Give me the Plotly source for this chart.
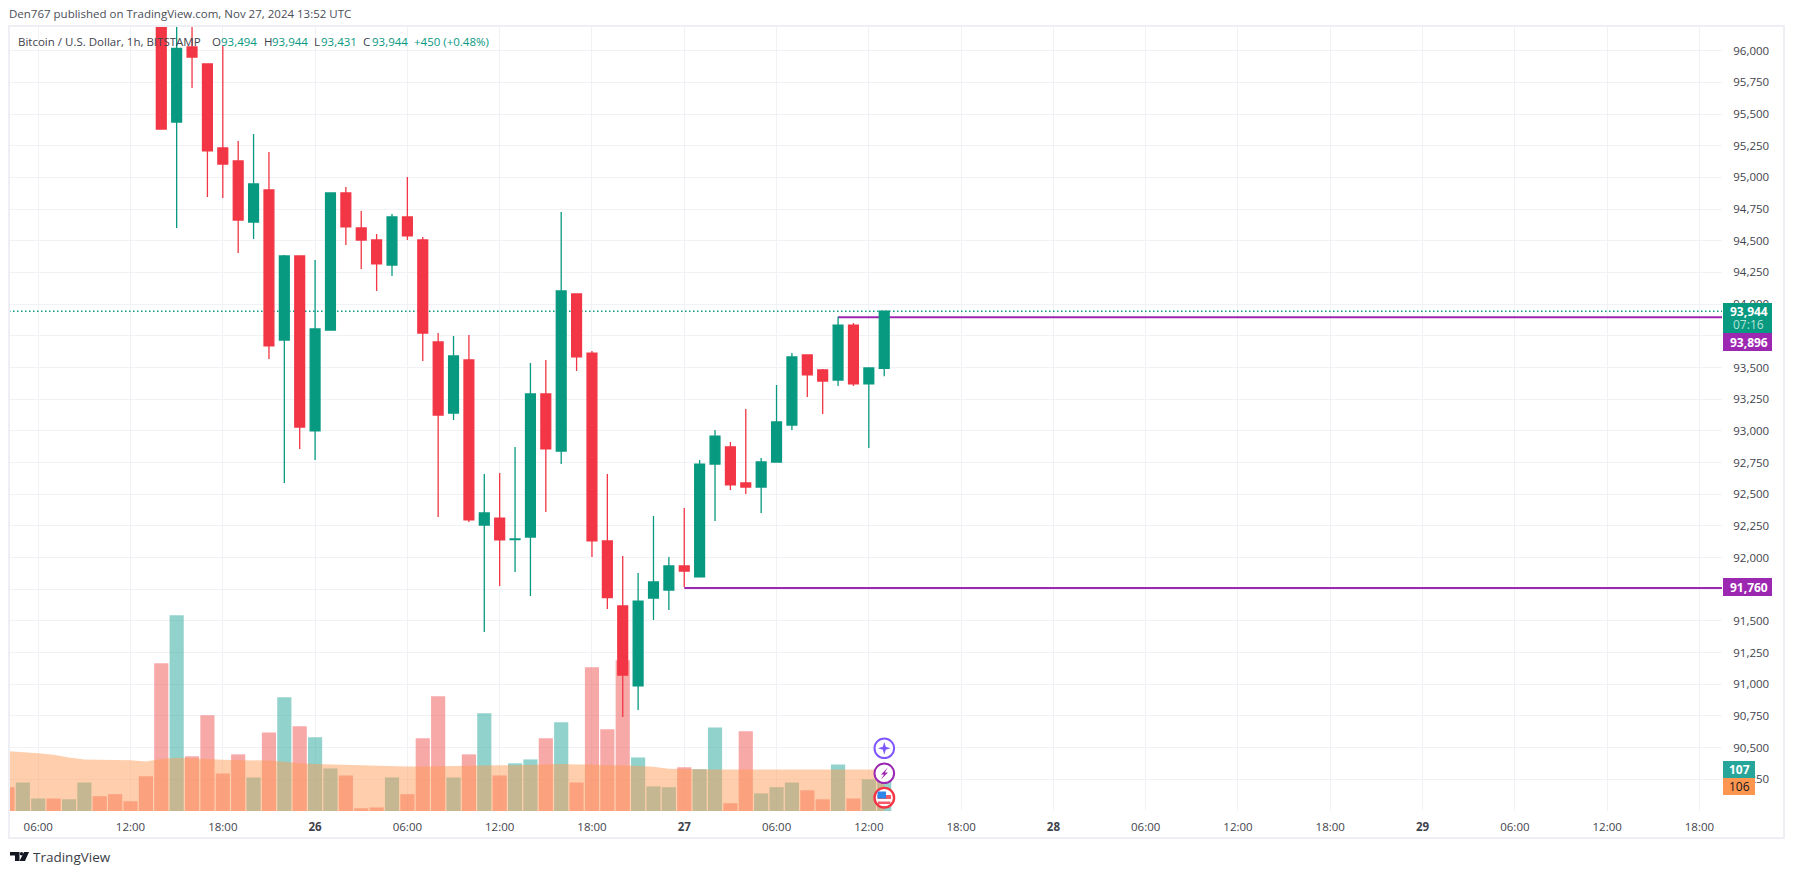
import pandas as pd
import plotly.graph_objects as go

# ---------- data ----------
candle_start = "2024-11-25 14:00"
candle_open = [96450, 95437, 96029, 95895, 95232, 95130, 94648, 94901, 93717, 94380,
               92999, 93796, 94877, 94601, 94506, 94309, 94688, 94506, 93701, 93141, 93559, 92257, 92312, 92141,
               92162, 93291, 92841, 94080, 93614, 92131, 91618, 90987, 91681, 91744,
               91934, 91847, 92738, 92873, 92589, 92557, 92754, 93046, 93599, 93480, 93401, 93835, 93370, 93494]
candle_high = [96450, 96400, 96400, 95895, 96045, 95287, 95343, 95201, 94388, 94380,
               94348, 94877, 94924, 94735, 94554, 94711, 95003, 94530, 93772, 93749, 93756, 92660, 92667, 92873,
               93536, 93559, 94727, 94080, 93630, 92660, 92012, 91878, 92328, 92005,
               92391, 92770, 93007, 92912, 93173, 92786, 93362, 93614, 93599, 93488, 93901, 93851, 93496, 93944]
candle_low = [95382, 94601, 95706, 94846, 94838, 94404, 94514, 93567, 92589, 92857,
              92770, 93796, 94467, 94277, 94104, 94222, 94506, 93551, 92320, 93086, 92281, 91413, 91776, 91886,
              91697, 92360, 92738, 93472, 92005, 91594, 90742, 90797, 91507, 91586,
              91768, 91847, 92289, 92533, 92502, 92352, 92754, 93007, 93267, 93133, 93354, 93354, 92865, 93431]
candle_close = [95382, 96019, 95950, 95209, 95106, 94664, 94948, 93670, 94380, 93030,
                93804, 94877, 94609, 94506, 94317, 94688, 94538, 93772, 93125, 93591, 92297, 92352, 92139, 92147,
                93291, 92857, 94104, 93583, 92131, 91684, 91073, 91657, 91807, 91934,
                91894, 92738, 92959, 92573, 92557, 92754, 93070, 93583, 93441, 93393, 93835, 93370, 93496, 93944]

volume_start = "2024-11-25 04:00"
volume = [61, 73, 32, 32, 30, 73, 38, 43, 25, 89, 378, 501, 140, 245, 96, 145, 86, 201, 291, 217,
          189, 109, 91, 7, 9, 86, 43, 186, 294, 86, 145, 250, 91, 122, 132, 186, 227, 73, 368, 209,
          386, 137, 63, 61, 112, 107, 214, 20, 204, 45, 61, 73, 53, 30, 119, 32, 81, 107]
volume_side = list("rggrggrrrrrgrrrrgrgrggrrrgrrrgrgrggrgrrrrgggrggrrgggrrgrgg")
volume_ma = [153, 151, 148, 144, 137, 132, 131, 131, 130, 127, 133, 136, 135, 133, 131, 130, 129, 129, 126, 122,
             120, 119, 118, 117, 115, 114, 114, 114, 114, 115, 116, 117, 117, 117, 118, 119, 120, 119, 119, 117,
             117, 115, 113, 108, 107, 106, 106, 106, 106, 106, 106, 106, 106, 106, 106, 106, 106, 106]

last_price = 93944
level_high = 93896
level_high_from = "2024-11-27 10:00"
level_low = 91760
level_low_from = "2024-11-27 00:00"
x_range = ["2024-11-25 04:06", "2024-11-29 19:28"]

price_ticks = list(range(90250, 96001, 250))
time_ticks = ["2024-11-25 06:00", "2024-11-25 12:00", "2024-11-25 18:00", "2024-11-26 00:00",
              "2024-11-26 06:00", "2024-11-26 12:00", "2024-11-26 18:00", "2024-11-27 00:00",
              "2024-11-27 06:00", "2024-11-27 12:00", "2024-11-27 18:00", "2024-11-28 00:00",
              "2024-11-28 06:00", "2024-11-28 12:00", "2024-11-28 18:00", "2024-11-29 00:00",
              "2024-11-29 06:00", "2024-11-29 12:00", "2024-11-29 18:00"]
time_labels = ["06:00", "12:00", "18:00", "<b>26</b>", "06:00", "12:00", "18:00", "<b>27</b>",
               "06:00", "12:00", "18:00", "<b>28</b>", "06:00", "12:00", "18:00", "<b>29</b>",
               "06:00", "12:00", "18:00"]

# ---------- style ----------
W, H = 1794, 874
L, R, T, B = 9, 1722, 27, 811
GREEN, RED, PURPLE = "#089981", "#F23645", "#9C27B0"
GRID = "#F1F2F6"
FONT = "Open Sans"
TXT = "#3F434D"


def px(v):
    return (v - L) / (R - L)


def py(v):
    return (B - v) / (B - T)


candle_x = pd.date_range(candle_start, periods=len(candle_open), freq="h")
volume_x = pd.date_range(volume_start, periods=len(volume), freq="h")

fig = go.Figure()

fig.add_trace(go.Bar(
    x=volume_x, y=volume, yaxis="y", width=3600000 * 0.92,
    marker=dict(color=["rgba(38,166,154,0.5)" if s == "g" else "rgba(239,83,80,0.5)" for s in volume_side],
                line_width=0),
    hoverinfo="skip"))
fig.add_trace(go.Scatter(
    x=volume_x, y=volume_ma, yaxis="y", mode="lines", line=dict(width=0),
    fill="tozeroy", fillcolor="rgba(255,152,80,0.47)", hoverinfo="skip"))

fig.add_trace(go.Scatter(
    x=[x_range[0], x_range[1]], y=[last_price, last_price], yaxis="y2", mode="lines",
    line=dict(color=GREEN, width=1.3, dash="1.5px 2.5px"), hoverinfo="skip"))
fig.add_trace(go.Scatter(
    x=[level_high_from, x_range[1]], y=[level_high, level_high], yaxis="y2", mode="lines",
    line=dict(color=PURPLE, width=2), hoverinfo="skip"))
fig.add_trace(go.Scatter(
    x=[level_low_from, x_range[1]], y=[level_low, level_low], yaxis="y2", mode="lines",
    line=dict(color=PURPLE, width=2), hoverinfo="skip"))

fig.add_trace(go.Candlestick(
    x=candle_x, open=candle_open, high=candle_high, low=candle_low, close=candle_close, yaxis="y3",
    increasing=dict(line=dict(color=GREEN, width=1.3), fillcolor=GREEN),
    decreasing=dict(line=dict(color=RED, width=1.3), fillcolor=RED),
    whiskerwidth=0, hoverinfo="skip"))

shapes = []
annots = []


def text(x, y, s, color=TXT, size=11.5, anchor="left", bold=False):
    annots.append(dict(xref="paper", yref="paper", x=px(x), y=py(y), text=f"<b>{s}</b>" if bold else s,
                       showarrow=False, xanchor=anchor, yanchor="middle", align=anchor,
                       font=dict(family=FONT, size=size, color=color), borderpad=0, borderwidth=0))


def rect(x0, y0, x1, y1, fill, line=None, lw=0):
    shapes.append(dict(type="rect", xref="paper", yref="paper", x0=px(x0), x1=px(x1), y0=py(y0), y1=py(y1),
                       fillcolor=fill, line=dict(color=line or fill, width=lw), layer="above"))


def poly(points, fill):
    d = "M" + " L".join(f"{px(a):.6f},{py(b):.6f}" for a, b in points) + " Z"
    shapes.append(dict(type="path", xref="paper", yref="paper", path=d, fillcolor=fill,
                       line=dict(width=0), layer="above"))


def circle(cx, cy, r, line, lw=2, fill="#FFFFFF"):
    shapes.append(dict(type="circle", xref="paper", yref="paper", x0=px(cx - r), x1=px(cx + r),
                       y0=py(cy + r), y1=py(cy - r), fillcolor=fill, line=dict(color=line, width=lw),
                       layer="above"))


# outer frame
rect(9, 26, 1784, 838, "rgba(0,0,0,0)", "#EEEFF5", 2)

# header and footer
text(9, 14, "Den767 published on TradingView.com, Nov 27, 2024 13:52 UTC", "#4A4E57")
text(18, 41, "Bitcoin / U.S. Dollar, 1h, BITSTAMP", TXT)
for xp, s, c in [(212, "O", TXT), (221, "93,494", GREEN), (264, "H", TXT), (272, "93,944", GREEN),
                 (314, "L", TXT), (321, "93,431", GREEN), (363, "C", TXT), (372, "93,944", GREEN),
                 (414, "+450 (+0.48%)", GREEN)]:
    text(xp, 41, s, c)
text(33, 857, "TradingView", "#3A3D45", 13.5)
poly([(10, 852), (19.5, 852), (19.5, 861), (15, 861), (15, 855.5), (10, 855.5)], "#131722")
circle(21.5, 853.7, 1.7, "#131722", 0, "#131722")
poly([(24, 852), (29, 852), (25, 861), (19.5, 861)], "#131722")

# price labels
rect(1723, 303, 1772, 333, GREEN)
text(1749, 312, "93,944", "#FFFFFF", 12, "center", True)
text(1749, 325, "07:16", "#B7E3DA", 12, "center")
rect(1723, 333, 1772, 351, PURPLE)
text(1749, 342, "93,896", "#FFFFFF", 12, "center", True)
rect(1723, 578, 1772, 596, PURPLE)
text(1749, 587, "91,760", "#FFFFFF", 12, "center", True)
rect(1723, 761, 1755, 778, "#26A69A")
text(1739, 769.5, "107", "#FFFFFF", 12, "center", True)
rect(1723, 778, 1755, 795, "#FF964F")
text(1739, 786.5, "106", "#131722", 12, "center")

# event badges
circle(884.3, 748.3, 9.8, "#7E57FF")
poly([(884.3, 742), (885.8, 746.8), (890.5, 748.3), (885.8, 749.8), (884.3, 754.5), (882.8, 749.8),
      (878, 748.3), (882.8, 746.8)], "#7E57FF")
circle(884.3, 773.3, 9.8, PURPLE)
poly([(887.8, 767.5), (881, 774.5), (884, 774.5), (881, 779.5), (888, 772.5), (884.8, 772.5)], PURPLE)
circle(884.3, 797.7, 9.8, RED, 2.4)
rect(877.5, 795, 891, 799, "#F45B69")
rect(878, 801.5, 890.5, 804, "#F45B69")
rect(877.5, 791.5, 886, 798.5, "#2E86E8")

fig.update_layout(
    width=W, height=H, autosize=False, showlegend=False, paper_bgcolor="#FFFFFF", plot_bgcolor="#FFFFFF",
    margin=dict(l=L, r=W - R, t=T, b=H - B, pad=0), boxgap=0.36, boxgroupgap=0, boxmode="overlay", barmode="overlay",
    shapes=shapes, annotations=annots,
    font=dict(family=FONT, size=11.5, color=TXT),
    xaxis=dict(type="date", range=x_range, tickmode="array", tickvals=time_ticks, ticktext=time_labels,
               showgrid=True, gridcolor=GRID, gridwidth=1, zeroline=False, showline=False,
               rangeslider=dict(visible=False), ticks="outside", ticklen=5, tickcolor="#FFFFFF",
               tickfont=dict(family=FONT, size=11.5, color=TXT)),
    yaxis=dict(range=[0, 2007], visible=False, showgrid=False, zeroline=False, fixedrange=True),
    yaxis2=dict(range=[90000, 96187], overlaying="y", visible=False, showgrid=False, zeroline=False),
    yaxis3=dict(range=[90000, 96187], overlaying="y", side="right", tickmode="array", tickvals=price_ticks,
                ticktext=[f"{v:,}" for v in price_ticks], showgrid=True, gridcolor=GRID, gridwidth=1,
                zeroline=False, showline=False, ticks="outside", ticklen=8, tickcolor="#FFFFFF",
                tickfont=dict(family=FONT, size=11.5, color=TXT)),
)

fig.write_html("out.html", config=dict(displayModeBar=False, staticPlot=True),
               post_script="document.body.style.margin='0';document.body.style.overflow='hidden';")
